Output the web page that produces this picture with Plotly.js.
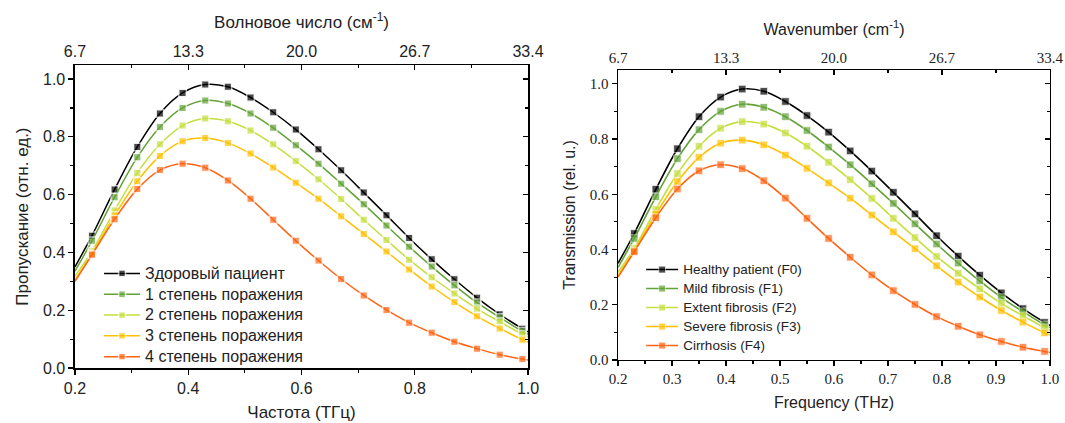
<!DOCTYPE html>
<html>
<head>
<meta charset="utf-8">
<script src="https://cdn.plot.ly/plotly-3.0.1.min.js"></script>
<style>html,body{margin:0;padding:0;background:#fff;}#chart{width:1065px;height:423px;}</style>
</head>
<body>
<div id="chart"></div>
<script>
// Frequency (THz); first and last values are the curve ends at the axis edges (no marker)
const freq = [0.20, 0.23, 0.27, 0.31, 0.35, 0.39, 0.43, 0.47, 0.51, 0.55, 0.59, 0.63, 0.67, 0.71, 0.75, 0.79, 0.83, 0.87, 0.91, 0.95, 0.99, 1.00];
const healthy = [0.350, 0.458, 0.618, 0.765, 0.881, 0.952, 0.981, 0.973, 0.936, 0.885, 0.825, 0.757, 0.684, 0.607, 0.529, 0.450, 0.376, 0.307, 0.243, 0.186, 0.136, 0.125];
const stage1  = [0.335, 0.440, 0.591, 0.729, 0.834, 0.900, 0.926, 0.915, 0.881, 0.831, 0.771, 0.707, 0.638, 0.567, 0.493, 0.420, 0.351, 0.286, 0.226, 0.175, 0.127, 0.117];
const stage2  = [0.318, 0.404, 0.545, 0.675, 0.774, 0.839, 0.863, 0.854, 0.822, 0.774, 0.716, 0.653, 0.585, 0.513, 0.443, 0.375, 0.314, 0.258, 0.205, 0.160, 0.117, 0.108];
const stage3  = [0.305, 0.395, 0.528, 0.646, 0.734, 0.785, 0.796, 0.779, 0.742, 0.694, 0.641, 0.586, 0.525, 0.464, 0.403, 0.341, 0.282, 0.228, 0.179, 0.137, 0.098, 0.090];
const stage4  = [0.300, 0.392, 0.515, 0.619, 0.685, 0.707, 0.693, 0.649, 0.586, 0.513, 0.440, 0.372, 0.308, 0.251, 0.201, 0.157, 0.122, 0.091, 0.067, 0.046, 0.031, 0.028];

const namesRu = ['Здоровый пациент', '1 степень поражения', '2 степень поражения', '3 степень поражения', '4 степень поражения'];
const namesEn = ['Healthy patient (F0)', 'Mild fibrosis (F1)', 'Extent fibrosis (F2)', 'Severe fibrosis (F3)', 'Cirrhosis (F4)'];
const colors = ['#000000', '#62a236', '#c6de3e', '#ffc000', '#ff6414'];
const series = [healthy, stage1, stage2, stage3, stage4];

const topTickPos = [0.2, 0.4, 0.6, 0.8, 1.0];
const topTickText = ['6.7', '13.3', '20.0', '26.7', '33.4'];

const markerSizes = freq.map((v, i) => (i === 0 || i === freq.length - 1) ? 0 : 7.5);
const sized = (t, px) => '<span style="font-size:' + px + 'px">' + t + '</span>';

const traces = [];
series.forEach((ys, k) => {
  traces.push({
    x: freq, y: ys, name: sized(namesRu[k], 16), xaxis: 'x', yaxis: 'y', legend: 'legend',
    mode: 'lines+markers', type: 'scatter', hoverinfo: 'skip',
    line: {color: colors[k], width: 1.5, shape: 'spline', smoothing: 1},
    marker: {symbol: 'square', size: markerSizes, color: colors[k], line: {color: 'rgba(255,255,255,0.9)', width: 1.5}}
  });
});
series.forEach((ys, k) => {
  traces.push({
    x: freq, y: ys, name: sized(namesEn[k], 13.5), xaxis: 'x3', yaxis: 'y3', legend: 'legend2',
    mode: 'lines+markers', type: 'scatter', hoverinfo: 'skip',
    line: {color: colors[k], width: 1.6, shape: 'spline', smoothing: 1},
    marker: {symbol: 'square', size: markerSizes, color: colors[k], line: {color: 'rgba(255,255,255,0.7)', width: 1}}
  });
});
// invisible carriers so the top (wavenumber) and right mirror axes are drawn
[['x2', 'y2'], ['x4', 'y4']].forEach(([xa, ya]) => {
  traces.push({x: freq, y: healthy, xaxis: xa, yaxis: ya, mode: 'lines', opacity: 0,
    line: {width: 0}, showlegend: false, hoverinfo: 'skip'});
});

const sans = 'Liberation Sans, Arial, sans-serif';
const serif = 'Liberation Serif, Times New Roman, serif';
const blk = '#000';
const txt = '#222';

function baseAx(extra) {
  return Object.assign({
    showline: true, linecolor: blk, linewidth: 1.5, mirror: false,
    showgrid: false, zeroline: false, ticklen: 5, tickwidth: 1.3, tickcolor: blk,
    fixedrange: true
  }, extra);
}

const layout = {
  width: 1065, height: 423,
  margin: {l: 0, r: 0, t: 0, b: 0},
  paper_bgcolor: '#fff', plot_bgcolor: '#fff',
  font: {family: sans, color: txt},
  showlegend: true,
  // ---- left panel (Russian) ----
  xaxis: baseAx({domain: [0.0704, 0.4958], anchor: 'y', range: [0.2, 1.0], side: 'bottom',
    tick0: 0.2, dtick: 0.2, tickformat: '.1f', ticks: 'outside',
    minor: {dtick: 0.1, ticklen: 3, ticks: 'outside', tickcolor: blk, tickwidth: 1.2},
    tickfont: {family: sans, size: 16, color: txt},
    title: {text: 'Частота (ТГц)', font: {family: sans, size: 17, color: txt}, standoff: 10}}),
  xaxis2: baseAx({overlaying: 'x', anchor: 'y', side: 'top', range: [0.2, 1.0],
    tickmode: 'array', tickvals: topTickPos, ticktext: topTickText, ticks: 'inside',
    minor: {dtick: 0.1, tick0: 0.2, ticklen: 3, ticks: 'inside', tickcolor: blk, tickwidth: 1.2},
    tickfont: {family: sans, size: 16, color: txt},
    title: {text: 'Волновое число (см<sup>-1</sup>)', font: {family: sans, size: 17, color: txt}, standoff: 10}}),
  yaxis: baseAx({domain: [0.130, 0.846], anchor: 'x', range: [0, 1.048],
    tick0: 0, dtick: 0.2, tickformat: '.1f', ticks: 'outside',
    minor: {dtick: 0.1, ticklen: 3, ticks: 'outside', tickcolor: blk, tickwidth: 1.2},
    tickfont: {family: sans, size: 16, color: txt},
    title: {text: 'Пропускание (отн. ед.)', font: {family: sans, size: 17, color: txt}, standoff: 10}}),
  yaxis2: baseAx({overlaying: 'y', anchor: 'x', side: 'right', range: [0, 1.048],
    tick0: 0, dtick: 0.2, ticks: 'inside', showticklabels: false,
    minor: {dtick: 0.1, ticklen: 3, ticks: 'inside', tickcolor: blk, tickwidth: 1.2}}),
  // ---- right panel (English) ----
  xaxis3: baseAx({domain: [0.5803, 0.9859], anchor: 'y3', range: [0.2, 1.0], side: 'bottom',
    tick0: 0.2, dtick: 0.1, tickformat: '.1f', ticks: 'outside',
    minor: {dtick: 0.05, ticklen: 3, ticks: 'outside', tickcolor: blk, tickwidth: 1.2},
    tickfont: {family: serif, size: 15, color: txt},
    title: {text: 'Frequency (THz)', font: {family: sans, size: 16, color: txt}, standoff: 10}}),
  xaxis4: baseAx({overlaying: 'x3', anchor: 'y3', side: 'top', range: [0.2, 1.0],
    tickmode: 'array', tickvals: topTickPos, ticktext: topTickText, ticks: 'inside',
    minor: {dtick: 0.1, tick0: 0.2, ticklen: 3, ticks: 'inside', tickcolor: blk, tickwidth: 1.2},
    tickfont: {family: serif, size: 15, color: txt},
    title: {text: 'Wavenumber (cm<sup>-1</sup>)', font: {family: sans, size: 16, color: txt}, standoff: 10}}),
  yaxis3: baseAx({domain: [0.149, 0.8345], anchor: 'x3', range: [0, 1.05],
    tick0: 0, dtick: 0.2, tickformat: '.1f', ticks: 'outside',
    minor: {dtick: 0.1, ticklen: 3, ticks: 'outside', tickcolor: blk, tickwidth: 1.2},
    tickfont: {family: serif, size: 15, color: txt},
    title: {text: 'Transmission (rel. u.)', font: {family: sans, size: 16, color: txt}, standoff: 10}}),
  yaxis4: baseAx({overlaying: 'y3', anchor: 'x3', side: 'right', range: [0, 1.05],
    tick0: 0, dtick: 0.2, ticks: 'inside', showticklabels: false,
    minor: {dtick: 0.1, ticklen: 3, ticks: 'inside', tickcolor: blk, tickwidth: 1.2}}),
  legend: {x: 0.093, y: 0.390, xanchor: 'left', yanchor: 'top', bgcolor: 'rgba(0,0,0,0)',
    font: {family: sans, size: 13.7, color: txt}, tracegroupgap: 0, itemwidth: 36},
  legend2: {x: 0.602, y: 0.397, xanchor: 'left', yanchor: 'top', bgcolor: 'rgba(0,0,0,0)',
    font: {family: sans, size: 11, color: txt}, tracegroupgap: 0, itemwidth: 32}
};

Plotly.newPlot('chart', traces, layout, {displayModeBar: false, staticPlot: true});
</script>
</body>
</html>
